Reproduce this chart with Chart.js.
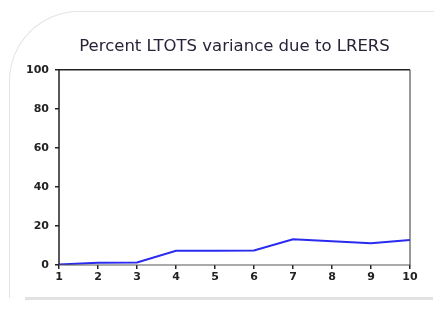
<!DOCTYPE html>
<html>
<head>
<meta charset="utf-8">
<script src="https://cdn.jsdelivr.net/npm/chart.js@4/dist/chart.umd.min.js"></script>
<style>
  html, body { margin: 0; padding: 0; background: #fff; }
  #wrap { position: relative; width: 443px; height: 309px; overflow: hidden; }
  #frame { position: absolute; left: 9px; top: 11px; width: 424px; height: 286px;
           border: 1px solid #e4e4e4; border-top-left-radius: 70px; border-bottom: none; border-right: none; }
  #shadow { position: absolute; left: 25px; top: 297px; width: 408px; height: 3px; background: #e2e2e2; }
  canvas { position: absolute; left: 0; top: 0; }
</style>
</head>
<body>
<div id="wrap">
  <div id="frame"></div>
  <div id="shadow"></div>
  <canvas id="c" width="443" height="309"></canvas>
</div>
<script>
const periods = [1, 2, 3, 4, 5, 6, 7, 8, 9, 10];
const percentValues = [0.3, 1.2, 1.3, 7.3, 7.3, 7.4, 13.2, 12.2, 11.2, 12.8];
const yTicks = [0, 20, 40, 60, 80, 100];
const titleText = "Percent LTOTS variance due to LRERS";

const frameBox = {
  id: 'frameBox',
  afterDraw(chart) {
    const { ctx, chartArea: a } = chart;
    ctx.save();
    ctx.lineWidth = 1.5;
    ctx.strokeStyle = '#222';
    ctx.beginPath();
    ctx.moveTo(a.left, a.bottom);
    ctx.lineTo(a.left, a.top);
    ctx.lineTo(a.right, a.top);
    ctx.stroke();
    ctx.strokeStyle = '#555';
    ctx.lineWidth = 1.2;
    ctx.beginPath();
    ctx.moveTo(a.right, a.top);
    ctx.lineTo(a.right, a.bottom);
    ctx.lineTo(a.left, a.bottom);
    ctx.stroke();
    ctx.restore();
  }
};

new Chart(document.getElementById('c'), {
  type: 'line',
  data: {
    datasets: [{
      data: periods.map((p, i) => ({ x: p, y: percentValues[i] })),
      borderColor: '#2a2af0',
      borderWidth: 2,
      pointRadius: 0,
      tension: 0,
      fill: false
    }]
  },
  options: {
    responsive: false,
    animation: false,
    layout: { padding: { left: 0, right: 33, top: 0, bottom: 0 } },
    plugins: {
      legend: { display: false },
      tooltip: { enabled: false },
      title: {
        display: true,
        fullSize: false,
        text: titleText,
        color: '#2a2238',
        font: { family: 'DejaVu Sans', size: 16.5, weight: 'normal' },
        padding: { top: 37, bottom: 13 }
      }
    },
    scales: {
      x: {
        type: 'linear',
        min: 1, max: 10,
        afterBuildTicks(scale) { scale.ticks = periods.map(v => ({ value: v })); },
        afterFit(scale) { scale.height = 44; },
        grid: { display: true, drawOnChartArea: false, drawTicks: true, tickLength: 4, color: '#222', lineWidth: 1.5 },
        border: { display: false },
        ticks: { color: '#222', font: { family: 'DejaVu Sans', size: 11, weight: 'bold' }, padding: 2, maxRotation: 0 }
      },
      y: {
        min: 0, max: 100,
        afterBuildTicks(scale) { scale.ticks = yTicks.map(v => ({ value: v })); },
        afterFit(scale) { scale.width = 59; },
        grid: { display: true, drawOnChartArea: false, drawTicks: true, tickLength: 4, color: '#222', lineWidth: 1.5 },
        border: { display: false },
        ticks: { color: '#222', font: { family: 'DejaVu Sans', size: 11, weight: 'bold' }, padding: 6 }
      }
    }
  },
  plugins: [frameBox]
});
</script>
</body>
</html>
